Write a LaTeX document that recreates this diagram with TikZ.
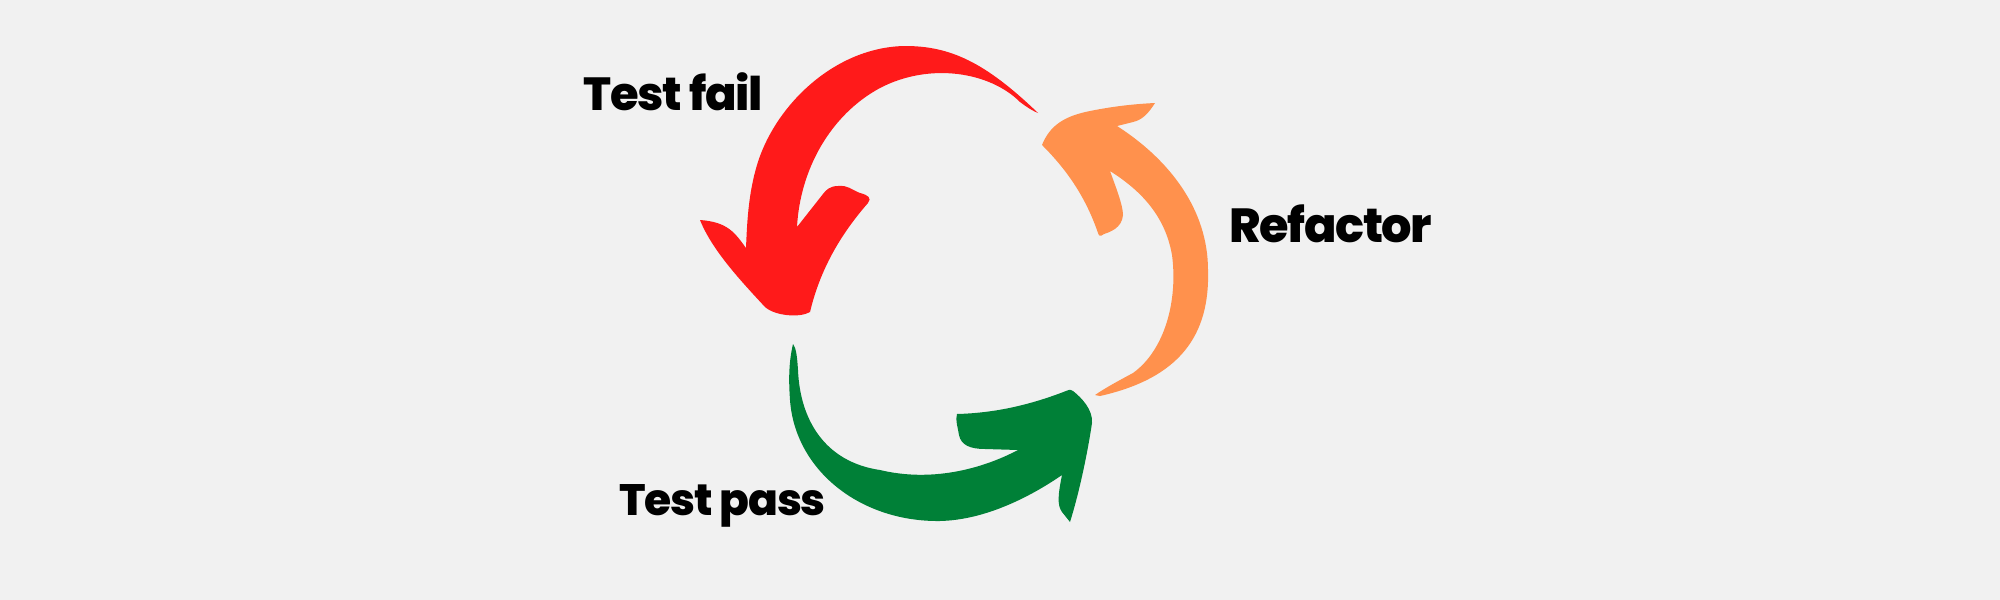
\documentclass[tikz,border=0pt]{standalone}
\usepackage{fontspec}
\setmainfont{Poppins}[BoldFont={Poppins ExtraBold},BoldFeatures={LetterSpace=-3}]
\usepackage{tikz}
\definecolor{failred}{RGB}{255,26,26}
\definecolor{refactororange}{RGB}{255,145,77}
\definecolor{passgreen}{RGB}{0,128,55}
\definecolor{bggray}{RGB}{241,241,241}

\begin{document}
\begin{tikzpicture}[x=0.01cm,y=-0.01cm,
  cyclelabel/.style={inner sep=0pt,anchor=base west,font=\fontsize{#1}{16}\selectfont\bfseries}]
\fill[bggray] (0,0) rectangle (2000,600);
\useasboundingbox (0,0) rectangle (2000,600);

\fill[failred] (1038,113) .. controls (985,62) and (950,46) .. (905,46)
  .. controls (835,47) and (775,105) .. (757,165)
  .. controls (748,195) and (747,225) .. (746,248)
  .. controls (735,233) and (728,222) .. (700,220)
  .. controls (712,250) and (740,280) .. (765,307)
  .. controls (775,316) and (800,318) .. (810,312)
  .. controls (820,270) and (840,235) .. (868,203)
  .. controls (872,198) and (868,195) .. (860,193)
  .. controls (852,190) and (848,185) .. (838,186)
  .. controls (830,186) and (826,190) .. (823,194)
  -- (797,227)
  .. controls (800,170) and (830,115) .. (880,88)
  .. controls (930,62) and (990,72) .. (1020,102)
  .. controls (1028,108) and (1033,111) .. cycle;

\fill[refactororange] (1042,145) .. controls (1050,125) and (1065,116) .. (1090,111)
  .. controls (1115,106) and (1135,104) .. (1155,103)
  .. controls (1148,114) and (1142,120) .. (1133,122)
  -- (1117,126)
  .. controls (1170,160) and (1208,210) .. (1208,270)
  .. controls (1210,335) and (1180,378) .. (1100,396)
  -- (1095,395)
  .. controls (1105,388) and (1120,380) .. (1133,373)
  .. controls (1165,350) and (1178,300) .. (1172,255)
  .. controls (1165,215) and (1140,190) .. (1110,171)
  .. controls (1115,185) and (1123,205) .. (1123,215)
  .. controls (1122,228) and (1110,232) .. (1104,234)
  .. controls (1100,237) and (1099,236) .. (1098,233)
  .. controls (1085,195) and (1065,168) .. cycle;

\fill[passgreen] (793,344) .. controls (788,365) and (789,385) .. (790,400)
  .. controls (795,470) and (860,522) .. (940,521)
  .. controls (985,520) and (1030,497) .. (1062,475)
  .. controls (1058,495) and (1057,505) .. (1062,512)
  -- (1070,522)
  .. controls (1080,490) and (1088,450) .. (1092,423)
  .. controls (1093,410) and (1082,398) .. (1073,391)
  .. controls (1070,389) and (1068,390) .. (1066,391)
  .. controls (1030,405) and (995,413) .. (957,414)
  .. controls (955,420) and (958,428) .. (959,435)
  .. controls (961,445) and (970,449) .. (985,449)
  -- (1018,450)
  .. controls (980,470) and (930,482) .. (880,470)
  .. controls (825,462) and (800,420) .. (798,370)
  .. controls (797,355) and (796,348) .. cycle;

\node[cyclelabel=13.2] (fail) at (583,110) {Test fail};
\node[cyclelabel=13.6] (refactor) at (1229,242) {Refactor};
\node[cyclelabel=12.5] (pass) at (619,515) {Test pass};
\end{tikzpicture}
\end{document}
